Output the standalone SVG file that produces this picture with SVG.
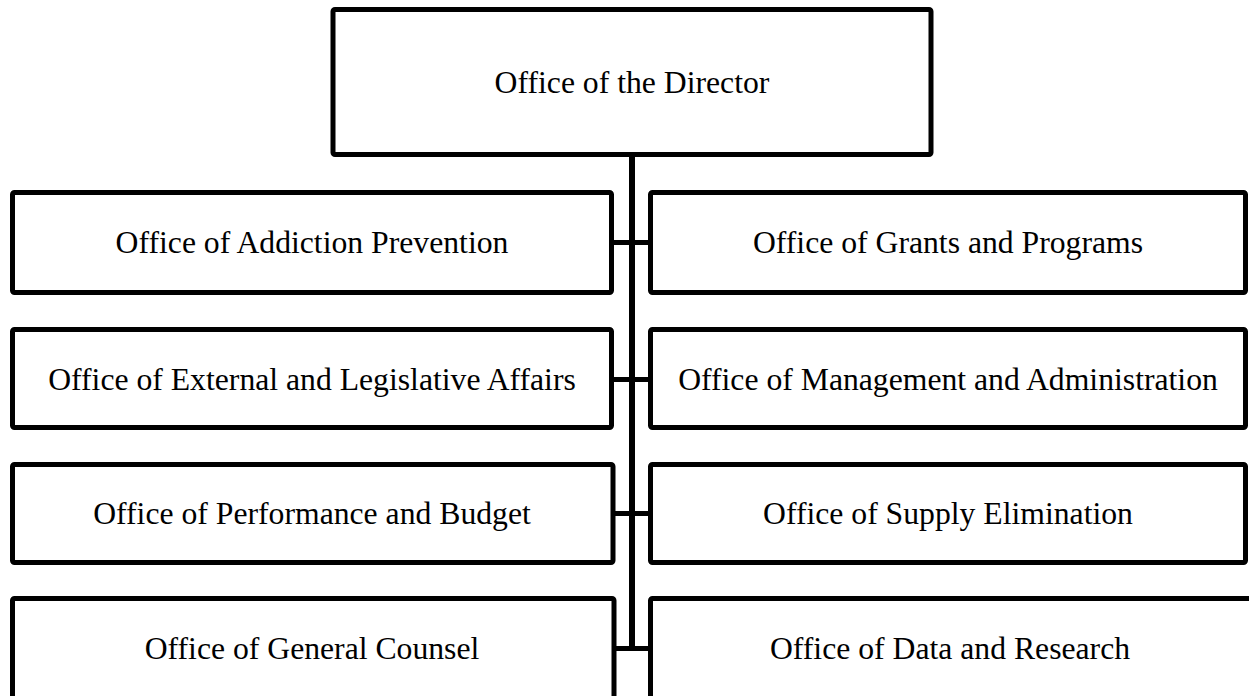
<svg xmlns="http://www.w3.org/2000/svg" width="1249" height="696" viewBox="0 0 1249 696">
  <style>
    .box { fill: #ffffff; stroke: #000000; stroke-width: 5; }
    .label { font-family: "Liberation Serif", "Times New Roman", serif; font-size: 31.7px; fill: #000000; text-anchor: middle; }
    .trunk { stroke: #000000; stroke-width: 6; fill: none; }
    .branch { stroke: #000000; stroke-width: 5; fill: none; }
  </style>
  <rect x="0" y="0" width="1249" height="696" fill="#ffffff"/>

  <!-- connectors -->
  <g id="connectors">
    <line class="trunk" x1="632" y1="155" x2="632" y2="651"/>
    <line class="branch" x1="612" y1="242.5" x2="651" y2="242.5"/>
    <line class="branch" x1="612" y1="379.5" x2="651" y2="379.5"/>
    <line class="branch" x1="613" y1="513.5" x2="651" y2="513.5"/>
    <line class="branch" x1="614" y1="648.5" x2="651" y2="648.5"/>
  </g>

  <g id="director">
    <rect class="box" x="333" y="9.5" width="598" height="145" rx="2"/>
    <text class="label" x="632" y="92.5">Office of the Director</text>
  </g>

  <g id="addiction-prevention">
    <rect class="box" x="12.5" y="192.5" width="599" height="100" rx="2"/>
    <text class="label" x="312" y="253">Office of Addiction Prevention</text>
  </g>
  <g id="grants-programs">
    <rect class="box" x="650.5" y="192.5" width="595" height="100" rx="2"/>
    <text class="label" x="948" y="253">Office of Grants and Programs</text>
  </g>

  <g id="external-legislative">
    <rect class="box" x="12.5" y="329.5" width="599" height="98" rx="2"/>
    <text class="label" x="312" y="389.5">Office of External and Legislative Affairs</text>
  </g>
  <g id="management-administration">
    <rect class="box" x="650.5" y="329.5" width="595" height="98" rx="2"/>
    <text class="label" x="948" y="389.5">Office of Management and Administration</text>
  </g>

  <g id="performance-budget">
    <rect class="box" x="12.5" y="464.5" width="600.5" height="98" rx="2"/>
    <text class="label" x="312" y="524">Office of Performance and Budget</text>
  </g>
  <g id="supply-elimination">
    <rect class="box" x="650.5" y="464.5" width="595" height="98" rx="2"/>
    <text class="label" x="948" y="524">Office of Supply Elimination</text>
  </g>

  <g id="general-counsel">
    <rect class="box" x="12.5" y="598.5" width="601.5" height="100" rx="2"/>
    <text class="label" x="312" y="658.5">Office of General Counsel</text>
  </g>
  <g id="data-research">
    <rect class="box" x="650.5" y="598.5" width="610" height="100" rx="2"/>
    <text class="label" x="950" y="658.5">Office of Data and Research</text>
  </g>
</svg>
